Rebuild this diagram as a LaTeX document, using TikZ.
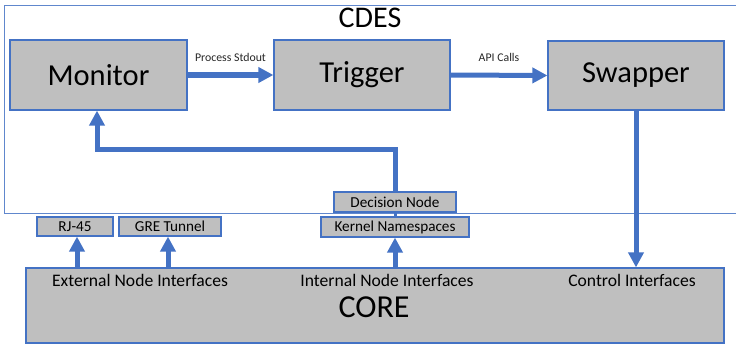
\documentclass[tikz,border=0pt]{standalone}
\usepackage{fontspec}
\setmainfont{Carlito}
\usetikzlibrary{arrows.meta,positioning}
\definecolor{officeblue}{HTML}{4472C4}
\definecolor{boxgray}{HTML}{BFBFBF}

\begin{document}
\begin{tikzpicture}[x=1pt,y=-1pt,
  main node/.style={draw=officeblue,fill=boxgray,line width=1.2pt,inner sep=0pt,font=\fontsize{30.5}{32}\selectfont},
  small node/.style={draw=officeblue,fill=boxgray,line width=1.2pt,inner sep=0pt,minimum height=19pt,font=\fontsize{15.2}{17}\selectfont},
  flow/.style={draw=officeblue,line width=5pt,-{Triangle[length=15pt,width=15pt]}},
  flow label/.style={font=\fontsize{11.8}{13}\selectfont,text=black!85}]
\useasboundingbox (0,0) rectangle (736,345);
% CDES frame
\draw[officeblue!85,line width=0.8pt] (4,5) rectangle (740,213);
\node[font=\fontsize{30}{32}\selectfont] (cdes) at (370,18) {CDES};
\begin{scope}
\node[main node,minimum width=177pt,minimum height=70pt] (monitor) at (98.5,75) {Monitor};
\node[main node,minimum width=176pt,minimum height=70pt] (trigger) at (362,75) {Trigger};
\node[main node,minimum width=176pt,minimum height=69pt] (swapper) at (636,75.5) {Swapper};
\node[small node,minimum width=122pt,minimum height=20pt] (decision) at (395,202) {Decision Node};
\node[small node,minimum width=148pt,minimum height=20pt] (kernel) at (395,227) {Kernel Namespaces};
\node[small node,minimum width=76pt] (rj) at (75,226.5) {RJ-45};
\node[small node,minimum width=102pt] (gre) at (170,226.5) {GRE Tunnel};
\node[main node,minimum width=698pt,minimum height=75pt] (core) at (375,305.5) {};
\end{scope}
% labels inside CORE
\begin{scope}[every node/.style={font=\fontsize{17.6}{19}\selectfont}]
\node (ext) at (140,280) {External Node Interfaces};
\node (int) at (387,280) {Internal Node Interfaces};
\node (ctl) at (632,280) {Control Interfaces};
\end{scope}
\node[font=\fontsize{32}{34}\selectfont] (corelabel) at (374,307) {CORE};
% connectors
\begin{scope}
\draw[flow] (monitor.east) -- node[flow label,above=8pt] {Process Stdout} (trigger.west);
\draw[flow] (trigger.east) -- node[flow label,above=8pt] {API Calls} (swapper.west);
\draw[flow] (decision.north) -- ++(0,-42) -| ([xshift=-1.5pt]monitor.south);
\draw[officeblue,line width=3pt] (decision) -- (kernel);
\draw[flow] ([xshift=2pt]rj.south |- core.north) -- ([xshift=2pt]rj.south);
\draw[flow] ([xshift=-2pt]gre.south |- core.north) -- ([xshift=-2pt]gre.south);
\draw[flow] (kernel.south |- core.north) -- (kernel.south);
\draw[flow] (swapper.south) -- (swapper.south |- core.north);
\end{scope}
\end{tikzpicture}
\end{document}
